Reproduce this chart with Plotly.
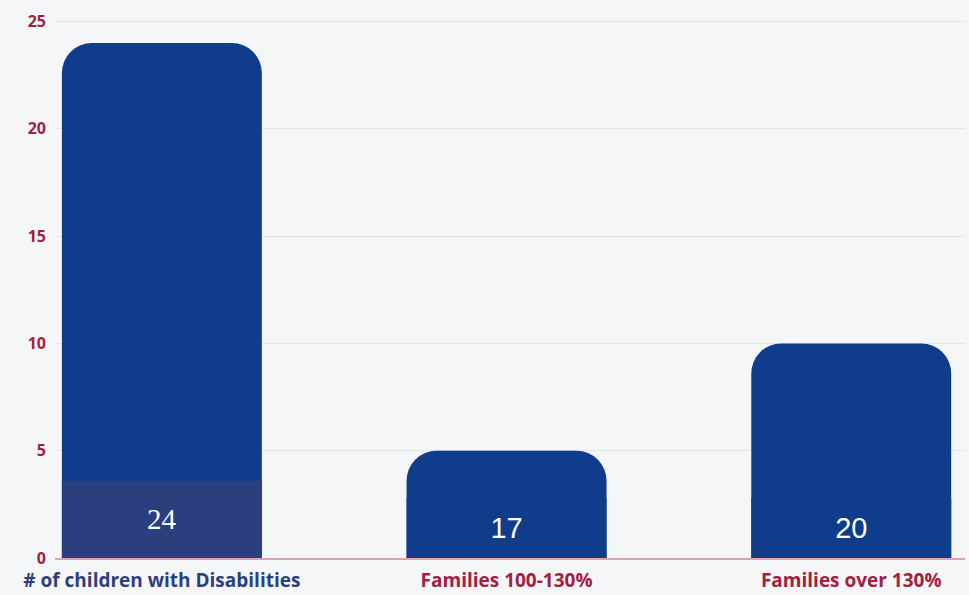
import plotly.graph_objects as go

categories = ["# of children with Disabilities", "Families 100-130%", "Families over 130%"]
bar_values = [24, 5, 10]
bar_labels = ["24", "17", "20"]
label_band = [3.6, 2.8, 2.8]
category_colors = ["#2b3f7f", "#a3203f", "#a3203f"]
y_ticks = [0, 5, 10, 15, 20, 25]

main_color = "#0f3c8b"
band_colors = ["#2b3f7f", main_color, main_color]
label_fonts = ["Liberation Serif", "Liberation Sans", "Liberation Sans"]

x = list(range(len(categories)))

fig = go.Figure()
fig.add_trace(go.Bar(
    x=x, y=bar_values, width=0.58,
    marker=dict(color=main_color, cornerradius=30, line=dict(width=0)),
    hoverinfo="skip", showlegend=False,
))
fig.add_trace(go.Bar(
    x=x, y=label_band, width=0.58,
    marker=dict(color=band_colors, cornerradius=0, line=dict(width=0)),
    text=bar_labels, textposition="inside", insidetextanchor="middle",
    textfont=dict(color="white", size=29, family=label_fonts),
    textangle=0,
    hoverinfo="skip", showlegend=False,
))

ticktext = [f"<span style='color:{c}'>{t}</span>" for t, c in zip(categories, category_colors)]

fig.update_layout(
    width=969, height=595,
    barmode="overlay",
    paper_bgcolor="#f5f6f8", plot_bgcolor="#f5f6f8",
    margin=dict(l=55, r=4, t=15, b=37),
    xaxis=dict(
        range=[-0.31, 2.33], tickmode="array", tickvals=x, ticktext=ticktext,
        showgrid=False, zeroline=False, showline=True, linecolor="#dba3ad", linewidth=1.5,
        ticks="", tickfont=dict(family="Open Sans", size=19, color="#a3203f", weight="bold"),
        ticklabelstandoff=4, automargin=False,
    ),
    yaxis=dict(
        range=[0, 25.3], tickmode="array", tickvals=y_ticks,
        showgrid=True, gridcolor="#e4e5e8", gridwidth=1, zeroline=False,
        ticks="", tickfont=dict(family="Open Sans", size=16, color="#a3203f", weight="bold"),
        ticklabelstandoff=8, automargin=False,
    ),
    font=dict(family="Open Sans"),
)

fig.write_html(
    "out.html",
    config={"displayModeBar": False},
    post_script="document.body.style.margin='0';document.body.style.background='#f5f6f8';",
)
